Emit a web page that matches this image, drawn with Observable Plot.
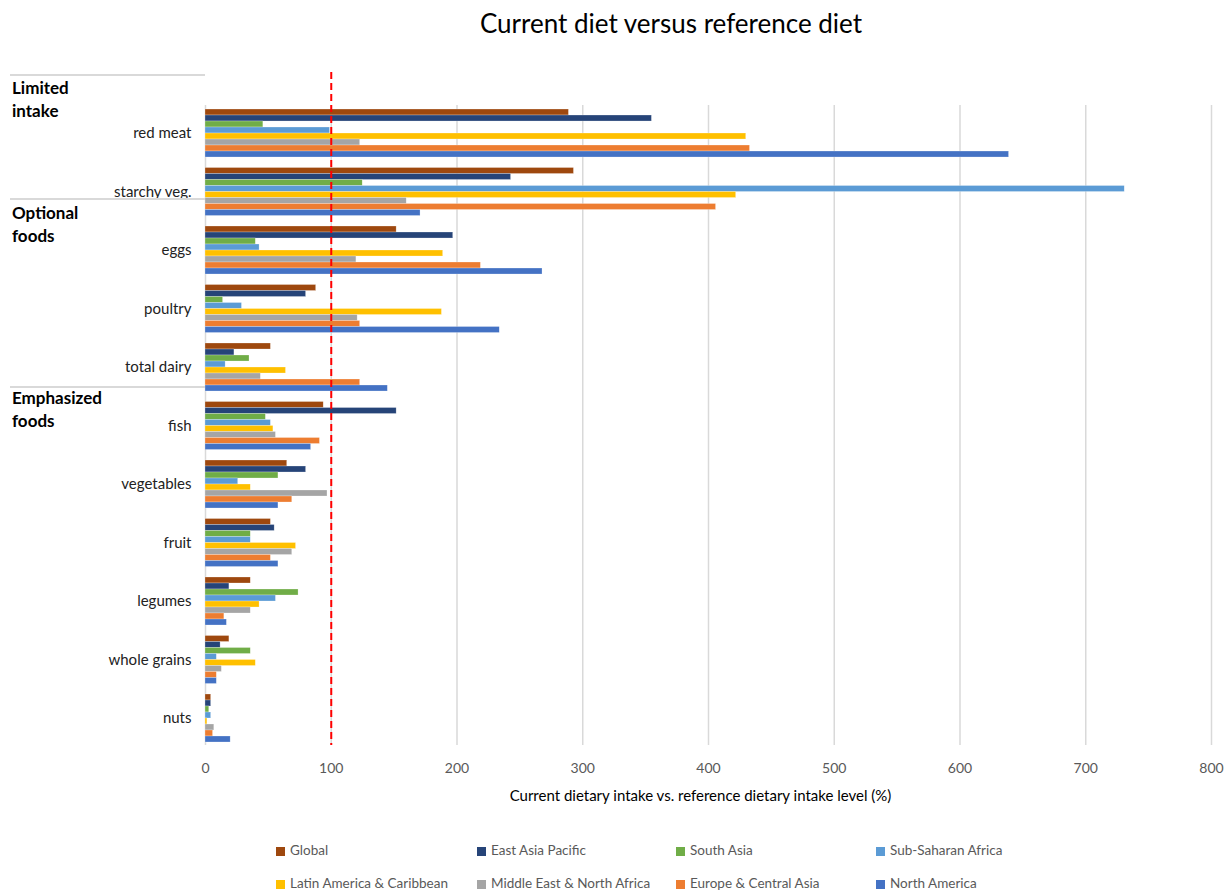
<!DOCTYPE html>
<html>
<head>
<meta charset="utf-8">
<script src="https://cdn.jsdelivr.net/npm/d3@7"></script>
<script src="https://cdn.jsdelivr.net/npm/@observablehq/plot@0.6"></script>
<style>
  html, body { margin: 0; padding: 0; background: #fff; }
  #wrap { position: relative; width: 1231px; height: 892px; font-family: Lato, "Noto Sans", sans-serif; }
  #title { position: absolute; top: 7px; left: 0; width: 1342px; text-align: center; font-size: 26px; color: #000; }
  #chart { position: absolute; top: 0; left: 0; }
  .grp { position: absolute; left: 12px; font-weight: bold; font-size: 17px; line-height: 23px; color: #000; }
  .sep { position: absolute; left: 10px; width: 195px; height: 2px; background: #d9d9d9; }
  #legend { position: absolute; top: 842px; left: 0; width: 1231px; font-size: 13.5px; color: #595959; }
  .li { position: absolute; white-space: nowrap; }
  .sw { display: inline-block; width: 9px; height: 9px; margin-right: 5px; vertical-align: -1px; }
</style>
</head>
<body>
<div id="wrap">
  <div id="chart"></div>
  <div id="title">Current diet versus reference diet</div>
  <div class="sep" style="top:74px"></div>
  <div class="grp" style="top:76px">Limited<br>intake</div>
  <div class="sep" style="top:198px"></div>
  <div class="grp" style="top:201px">Optional<br>foods</div>
  <div class="sep" style="top:386px"></div>
  <div class="grp" style="top:386px">Emphasized<br>foods</div>
  <div id="legend"></div>
</div>
<script>
const categories = ["red meat", "starchy veg.", "eggs", "poultry", "total dairy", "fish", "vegetables", "fruit", "legumes", "whole grains", "nuts"];
const regions = ["Global", "East Asia Pacific", "South Asia", "Sub-Saharan Africa", "Latin America & Caribbean", "Middle East & North Africa", "Europe & Central Asia", "North America"];
const regionColors = ["#9E480E", "#264478", "#70AD47", "#5B9BD5", "#FFC000", "#A5A5A5", "#ED7D31", "#4472C4"];

const globalVals   = [289, 293, 152, 88, 52, 94, 65, 52, 36, 19, 4.5];
const eastAsiaVals = [355, 243, 197, 80, 23, 152, 80, 55, 19, 12, 4.5];
const southAsiaVals= [46, 125, 40, 14, 35, 48, 58, 36, 74, 36, 3];
const ssaVals      = [99, 731, 43, 29, 16, 52, 26, 36, 56, 9, 4.5];
const latamVals    = [430, 422, 189, 188, 64, 54, 36, 72, 43, 40, 1.5];
const menaVals     = [123, 160, 120, 121, 44, 56, 97, 69, 36, 13, 7];
const europeVals   = [433, 406, 219, 123, 123, 91, 69, 52, 15, 9, 6];
const northAmVals  = [639, 171, 268, 234, 145, 84, 58, 58, 17, 9, 20];

const xTicks = [0, 100, 200, 300, 400, 500, 600, 700, 800];
const referenceLevel = 100;

const series = [globalVals, eastAsiaVals, southAsiaVals, ssaVals, latamVals, menaVals, europeVals, northAmVals];
const data = [];
series.forEach((vals, ri) => vals.forEach((v, ci) => data.push({region: regions[ri], ri, category: categories[ci], value: v})));

const barH = 6;
const barMarks = regions.map((r, i) => Plot.barX(data.filter(d => d.ri === i), {
  x: "value", y: "category", fill: regionColors[i],
  insetTop: i * barH, insetBottom: (regions.length - 1 - i) * barH,
  stroke: "#fff", strokeOpacity: 0.5, strokeWidth: 0.5
}));

const chart = Plot.plot({
  width: 1231,
  height: 820,
  marginLeft: 205,
  marginRight: 20,
  marginTop: 72,
  marginBottom: 75,
  style: {fontFamily: "Lato, 'Noto Sans', sans-serif", background: "transparent"},
  x: {domain: [0, 800], ticks: xTicks, label: null},
  y: {domain: categories, paddingInner: 0.1795, paddingOuter: 0.342, align: 0.925, round: false, label: null},
  marks: [
    Plot.ruleX(xTicks, {stroke: "#d9d9d9", strokeWidth: 1.5, insetTop: 33}),
    ...barMarks,
    Plot.ruleX([referenceLevel], {stroke: "#ff0000", strokeWidth: 2, strokeDasharray: "7,4"}),
    Plot.axisX({ticks: xTicks, tickSize: 0, tickPadding: 18, fontSize: 14, color: "#595959", label: null}),
    Plot.axisY({tickSize: 0, tickPadding: 14, fontSize: 15, color: "#222", label: null}),
    Plot.text(["Current dietary intake vs. reference dietary intake level (%)"], {
      frameAnchor: "bottom", dy: 55, fontSize: 15, fill: "#000", dx: -8
    })
  ]
});
document.getElementById("chart").appendChild(chart);

const legendPos = [[276, 0], [477, 0], [676, 0], [876, 0], [276, 33], [477, 33], [676, 33], [876, 33]];
const legend = document.getElementById("legend");
regions.forEach((r, i) => {
  const el = document.createElement("div");
  el.className = "li";
  el.style.left = legendPos[i][0] + "px";
  el.style.top = legendPos[i][1] + "px";
  el.innerHTML = `<span class="sw" style="background:${regionColors[i]}"></span>${r}`;
  legend.appendChild(el);
});
</script>
</body>
</html>
